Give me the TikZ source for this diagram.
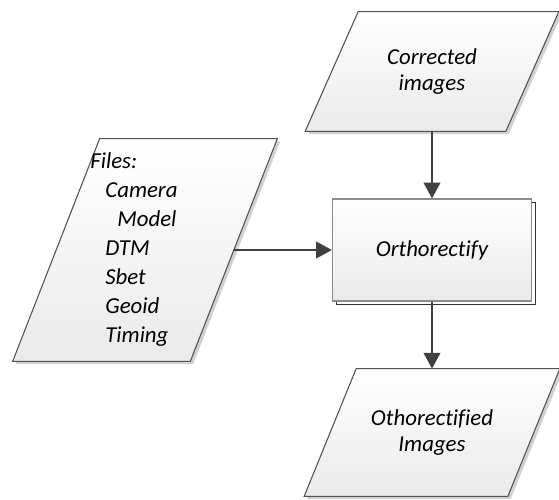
\documentclass[tikz,border=0pt]{standalone}
\usepackage{fontspec}
\setmainfont{Carlito}[Ligatures=NoCommon]
\usetikzlibrary{arrows.meta,shadows,backgrounds}
\definecolor{linegray}{HTML}{505050}
\definecolor{arrowgray}{HTML}{404040}
\definecolor{shadegray}{HTML}{EAEAEA}
\tikzset{
  flowtext/.style={font=\itshape\fontsize{13}{15}\selectfont, align=center, inner sep=0pt},
  iobox/.style={flowtext, rectangle},
  iofill/.style={draw=linegray, line width=0.6pt, top color=white, bottom color=shadegray,
    drop shadow={shadow xshift=1.6pt, shadow yshift=-1.6pt, fill=black!30, opacity=0.6}},
  procbox/.style={flowtext, rectangle, draw=black!45, line width=0.7pt,
    top color=white, bottom color=shadegray, minimum width=3.98cm, minimum height=2.04cm,
    copy shadow={shadow xshift=2.2pt, shadow yshift=-2.2pt, draw=black!80, fill=white}},
  flowarrow/.style={-{Triangle[length=9pt,width=9.5pt]}, draw=arrowgray, line width=1.1pt}
}
% parallelogram round an empty box: node name, slant
\newcommand{\ioframe}[2]{%
  \draw[iofill] ([xshift=#2]#1.north west) -- (#1.north east)
    -- ([xshift=-#2]#1.south east) -- (#1.south west) -- cycle;}
\begin{document}
\begin{tikzpicture}[x=0.02cm,y=-0.02cm]
  \useasboundingbox (0,0) rectangle (559,500);
  \draw
    (145,250) node[iobox, minimum width=5.28cm, minimum height=4.44cm] (files){}
    (432,71.5) node[iobox, minimum width=5.06cm, minimum height=2.38cm] (corrected){Corrected\\images}
    (432,250) node[procbox] (ortho){Orthorectify}
    (432,432.5) node[iobox, minimum width=5.1cm, minimum height=2.54cm] (result){Othorectified\\Images};
  \node[flowtext, align=left, font=\itshape\fontsize{13}{16.5}\selectfont, anchor=north west]
    (filestext) at (90,152) {Files:\\\hspace*{0.3cm}Camera\\\hspace*{0.54cm}Model\\\hspace*{0.3cm}DTM\\\hspace*{0.3cm}Sbet\\\hspace*{0.3cm}Geoid\\\hspace*{0.3cm}Timing};
  \coordinate (filesout) at ([xshift=-0.87cm]files.east);
  \begin{pgfonlayer}{background}
    \ioframe{files}{1.74cm}
    \ioframe{corrected}{1.06cm}
    \ioframe{result}{1.04cm}
  \end{pgfonlayer}
  \begin{scope}[flowarrow]
    \draw (corrected) to (ortho);
    \draw (filesout) to (ortho);
    \draw (ortho) to (result);
  \end{scope}
\end{tikzpicture}
\end{document}
